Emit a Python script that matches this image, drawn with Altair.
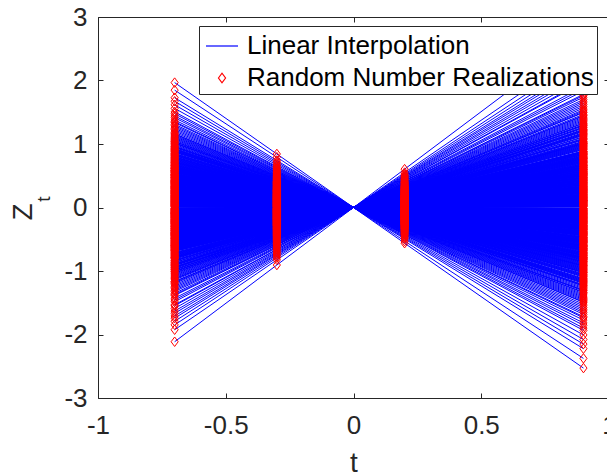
import altair as alt
import pandas as pd

# time points at which the random numbers were realised
T_VALUES = [-0.7, -0.3, 0.2, 0.9]

# random coefficient of each realisation (Z_t = t * X)
X = [
    0.54, -1.21, 0.08, 1.37, -0.33, -0.87, 0.71, 0.12, -2.81, 0.45,
    -0.02, 1.12, -0.64, 0.29, -1.48, 0.93, -0.17, 0.61, 3.02, -0.41,
    0.19, -0.95, 1.63, -0.26, 0.37, -0.72, 0.05, 1.29, -1.07, 0.83,
    -0.11, 0.48, -0.56, 2.27, -0.38, 0.66, -1.66, 0.23, -0.08, 1.04,
    -0.79, 0.31, -0.23, 0.98, -1.31, 0.14, 0.57, -0.49, 2.75, -0.14,
    0.76, -1.02, 0.41, -0.61, 1.18, -0.04, 0.25, -2.64, 0.88, -0.35,
    0.02, -0.83, 1.47, -0.19, 0.52, -1.14, 0.34, -0.69, 1.86, -0.28,
    0.10, -0.91, 0.63, -0.45, 1.23, -1.57, 0.17, -0.06, 0.79, -0.52,
    2.49, -0.31, 0.44, -1.24, 0.69, -0.12, 1.08, -0.75, 0.27, -1.84,
    0.59, -0.21, 0.96, -0.58, 0.06, -1.38, 1.33, -0.36, 0.39, -0.99,
    0.15, -2.47, 0.73, -0.43, 1.54, -0.09, 0.32, -0.67, 1.01, -1.12,
    0.50, -0.16, 2.04, -0.85, 0.21, -0.47, 0.86, -1.44, 0.03, -0.25,
    1.16, -0.71, 0.46, -1.72, 0.64, -0.01, 1.41, -0.54, 0.28, -0.93,
    0.81, -0.29, 2.64, -1.19, 0.11, -0.62, 0.55, -0.07, 1.26, -0.81,
    0.36, -1.53, 0.92, -0.39, 0.18, -1.05, 1.69, -0.24, 0.60, -0.77,
    0.07, -2.23, 0.74, -0.46, 1.10, -0.13, 0.43, -1.28, 0.90, -0.59,
    0.24, -0.89, 1.58, -0.34, 0.67, -0.03, 1.93, -1.61, 0.13, -0.66,
    0.49, -0.18, 1.21, -0.97, 0.33, -1.35, 0.78, -0.51, 2.38, -0.22,
    0.04, -0.73, 1.06, -1.91, 0.58, -0.42, 0.85, -0.10, 1.44, -1.09,
    0.26, -0.57, 0.70, -2.15, 0.16, -0.32, 1.74, -0.84, 0.40, -1.17,
    0.97, -0.05, 0.53, -0.68, 1.31, -1.42, 0.20, -0.27, 2.12, -0.90,
    0.62, -0.48, 0.09, -1.78, 1.14, -0.37, 0.35, -0.80, 0.87, -1.97,
    0.47, -0.15, 1.50, -0.63, 0.22, -1.26, 1.80, -0.44, 0.68, -2.06,
    0.01, -1.01, 1.39, -0.20, 0.56, -0.74, 0.95, -1.51, 0.30, -0.53,
    1.98, -0.88, 0.42, -1.33, 0.75, -0.30, 1.02, -0.60, 0.12, -1.11,
    -0.44, 0.91, -1.16, 0.27, 0.63, -0.05, 1.52, -0.71, 0.38, -1.87,
    0.14, -0.26, 1.09, -0.55, 0.82, -0.92, 0.03, 1.71, -0.36, 0.47,
    -1.29, 0.58, -0.12, 2.19, -0.66, 0.21, -0.83, 1.27, -0.19, 0.72,
    -1.45, 0.09, -0.49, 0.99, -2.02, 0.35, -0.31, 1.43, -0.76, 0.16,
    0.53, -1.03, 0.84, -0.08, 1.96, -0.58, 0.29, -1.22, 0.67, -0.39,
    0.06, -1.69, 1.13, -0.24, 0.44, -0.94, 0.77, -0.14, 2.33, -0.62,
    0.19, -1.36, 0.95, -0.47, 0.31, -0.02, 1.35, -0.81, 0.56, -1.59,
    0.12, -0.33, 1.61, -0.69, 0.40, -1.08, 0.88, -0.17, 0.25, -2.31,
    0.69, -0.52, 1.19, -0.28, 0.02, -0.87, 1.83, -0.41, 0.51, -1.25,
    0.80, -0.11, 0.36, -0.98, 1.48, -0.64, 0.18, -1.49, 1.03, -0.22,
    0.60, -0.74, 2.56, -0.37, 0.08, -1.13, 0.93, -0.53, 0.30, -1.81,
    1.24, -0.06, 0.46, -0.86, 0.71, -1.32, 0.11, -0.45, 1.67, -0.15,
    0.57, -1.04, 0.83, -0.29, 1.36, -0.70, 0.22, -1.63, 0.98, -0.50,
    0.04, -0.89, 2.08, -0.34, 0.65, -1.18, 0.13, -0.60, 1.12, -0.07,
    0.49, -1.40, 0.79, -0.23, 1.56, -0.78, 0.33, -0.96, 0.17, -2.11,
    0.74, -0.42, 1.30, -0.16, 0.55, -1.10, 0.89, -0.57, 0.26, -1.55,
    1.05, -0.32, 0.42, -0.84, 1.77, -0.10, 0.61, -1.27, 0.07, -0.67,
    1.20, -0.48, 0.37, -1.75, 0.94, -0.20, 0.15, -0.91, 1.40, -0.54,
    0.52, -1.00, 0.86, -0.27, 2.44, -0.72, 0.23, -1.37, 0.66, -0.04,
    1.07, -0.59, 0.32, -1.20, 0.76, -0.38, 1.89, -0.82, 0.10, -1.46,
    0.59, -0.13, 1.15, -0.65, 0.43, -2.39, 0.90, -0.35, 0.05, -1.06,
    1.28, -0.46, 0.70, -0.79, 0.20, -1.65, 1.45, -0.21, 0.48, -0.95,
    0.85, -0.56, 1.60, -0.09, 0.34, -1.14, 0.64, -0.43, 2.21, -0.75,
    0.13, -1.30, 0.97, -0.25, 0.51, -0.88, 1.34, -0.61, 0.28, -1.93,
    0.73, -0.18, 1.11, -0.68, 0.39, -1.02, 0.81, -0.40, 1.66, -0.01,
]

SERIES = ["Linear Interpolation", "Random Number Realizations"]
X_TICKS = [-1, -0.5, 0, 0.5, 1]
Y_TICKS = [-3, -2, -1, 0, 1, 2, 3]

rows = []
for i, xv in enumerate(X):
    for t in T_VALUES:
        rows.append({"id": i, "t": t, "z": round(t * xv, 4), "series": SERIES[1]})
df = pd.DataFrame(rows)

FONT = "Liberation Sans"
AX = "#262626"
W, H = 511, 381
TALL_DIAMOND = "M-0.75,0L0,-1L0.75,0L0,1Z"

x_scale = alt.Scale(domain=[-1, 1], nice=False, zero=False)
y_scale = alt.Scale(domain=[-3, 3], nice=False, zero=False)

base_ax = dict(grid=False, domainColor=AX, tickColor=AX, domainWidth=1, tickWidth=1,
               title=None)
tick_ax = dict(labels=False, tickSize=5, **base_ax)

# labelled axes (bottom / left), no ticks
lines = alt.Chart(df).mark_line(color="#0000ff", strokeWidth=1.0, clip=True).encode(
    x=alt.X("t:Q", scale=x_scale, axis=alt.Axis(
        orient="bottom", values=X_TICKS, ticks=False, labelPadding=14, labelFlush=False,
        labelFont=FONT, labelFontSize=26, labelColor=AX, labelExpr="'' + datum.value",
        grid=False, domainColor=AX, domainWidth=1,
        title="t", titleFont=FONT, titleFontSize=28, titleFontWeight="normal",
        titleColor=AX, titleBaseline="alphabetic", titleY=73)),
    y=alt.Y("z:Q", scale=y_scale, axis=alt.Axis(
        orient="left", values=Y_TICKS, ticks=False, labelPadding=11, labelFlush=False,
        labelFont=FONT, labelFontSize=26, labelColor=AX, labelExpr="'' + datum.value",
        **base_ax)),
    detail="id:N",
    order="t:Q",
)

# inward ticks on bottom and left edges
points = alt.Chart(df).mark_point(filled=False, strokeWidth=1, opacity=1, clip=True).encode(
    x=alt.X("t:Q", scale=x_scale, axis=alt.Axis(
        orient="top", offset=-H, values=X_TICKS, domain=False, **tick_ax)),
    y=alt.Y("z:Q", scale=y_scale, axis=alt.Axis(
        orient="right", offset=-W, values=Y_TICKS, domain=False, **tick_ax)),
    color=alt.Color("series:N", scale=alt.Scale(domain=SERIES, range=["#0000ff", "#ff0000"]),
                    legend=alt.Legend(title=None)),
    shape=alt.Shape("series:N", scale=alt.Scale(domain=SERIES, range=["stroke", TALL_DIAMOND]),
                    legend=alt.Legend(title=None)),
    size=alt.Size("series:N", scale=alt.Scale(domain=SERIES, range=[1024, 90]),
                  legend=alt.Legend(title=None)),
)

# box top / right edges with inward ticks
box = alt.Chart(df).mark_point(opacity=0).encode(
    x=alt.X("t:Q", scale=x_scale, axis=alt.Axis(
        orient="bottom", offset=-H, values=X_TICKS, **tick_ax)),
    y=alt.Y("z:Q", scale=y_scale, axis=alt.Axis(
        orient="left", offset=-W, values=Y_TICKS, **tick_ax)),
)

z_label = alt.Chart(pd.DataFrame({"txt": ["Z"]})).mark_text(
    font=FONT, fontSize=28, angle=270, align="center", baseline="middle", color=AX
).encode(x=alt.value(-74), y=alt.value(195), text="txt:N")
t_sub = alt.Chart(pd.DataFrame({"txt": ["t"]})).mark_text(
    font=FONT, fontSize=19, angle=270, align="center", baseline="middle", color=AX
).encode(x=alt.value(-54), y=alt.value(182), text="txt:N")

chart = alt.layer(lines, points, box, z_label, t_sub).resolve_axis(
    x="independent", y="independent"
).properties(
    width=W, height=H, autosize="none",
    padding={"left": 98, "top": 17, "right": -2, "bottom": 78},
).configure_view(stroke=None).configure_legend(
    orient="none", legendX=101, legendY=9, fillColor="white", strokeColor=AX,
    padding=3, labelFont=FONT, labelFontSize=26, labelColor="black", labelLimit=0,
    symbolStrokeWidth=1.2, symbolOffset=3, labelOffset=8, rowPadding=6,
)

chart.save("out.html", embed_options={"renderer": "svg", "actions": False})
